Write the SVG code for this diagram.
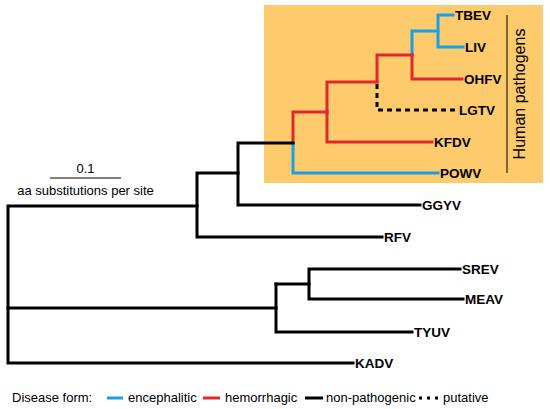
<svg xmlns="http://www.w3.org/2000/svg" width="550" height="409" viewBox="0 0 550 409">
<style>
.br{fill:none;stroke-width:3;stroke-linecap:square;stroke-linejoin:miter}
.k{stroke:#000}
.b{stroke:#1AA1E1}
.r{stroke:#E0282D}
.d{stroke:#000;stroke-dasharray:5,4;stroke-linecap:butt}
.lab{font-family:"Liberation Sans",Arial,sans-serif;font-weight:bold;font-size:13.5px;fill:#000}
.txt{font-family:"Liberation Sans",Arial,sans-serif;font-size:13px;fill:#000}
</style>
<rect id="human-box" x="264" y="5" width="279" height="178" fill="#FDCB6C"/>
<g id="connectors">
  <!-- pathogen clade -->
  <path class="br b" d="M453,15 H438 V47 H463"/>
  <path class="br b" d="M438,31 H412 V55"/>
  <path class="br r" d="M412,55 V79 H462"/>
  <path class="br r" d="M412,55 H377 V82"/>
  <path class="br d" d="M377,84 V110 H457"/>
  <path class="br r" d="M377,82 H327 V142 H432"/>
  <path class="br r" d="M327,112 H293 V143"/>
  <path class="br b" d="M293,143 V173 H438"/>
  <path class="br k" d="M293,143 H238 V205 H420"/>
  <path class="br k" d="M238,173 H197 V237 H382"/>
  <path class="br k" d="M197,206 H8 V363 H353"/>
  <path class="br k" d="M8,308 H276 V332 H412"/>
  <path class="br k" d="M276,284 H309 V269 H460"/>
  <path class="br k" d="M309,284 V299 H463"/>
  <path class="br k" d="M276,308 V284"/>
</g>
<g id="pathogen-bracket">
  <line x1="507" y1="15" x2="507" y2="173" stroke="#000" stroke-width="1"/>
  <text transform="translate(525,94) rotate(-90)" text-anchor="middle" font-family="Liberation Sans, Arial, sans-serif" font-size="16" fill="#000">Human pathogens</text>
</g>
<g id="TBEV"><text class="lab" x="455" y="20">TBEV</text></g>
<g id="LIV"><text class="lab" x="465" y="52">LIV</text></g>
<g id="OHFV"><text class="lab" x="464" y="84">OHFV</text></g>
<g id="LGTV"><text class="lab" x="459" y="115">LGTV</text></g>
<g id="KFDV"><text class="lab" x="434" y="147">KFDV</text></g>
<g id="POWV"><text class="lab" x="440" y="178">POWV</text></g>
<g id="GGYV"><text class="lab" x="422" y="210">GGYV</text></g>
<g id="RFV"><text class="lab" x="384" y="242">RFV</text></g>
<g id="SREV"><text class="lab" x="462" y="274">SREV</text></g>
<g id="MEAV"><text class="lab" x="465" y="304">MEAV</text></g>
<g id="TYUV"><text class="lab" x="414" y="337">TYUV</text></g>
<g id="KADV"><text class="lab" x="355" y="368">KADV</text></g>
<g id="scale-bar">
  <line x1="50" y1="178" x2="121" y2="178" stroke="#000" stroke-width="1"/>
  <text class="txt" x="85.5" y="173" text-anchor="middle">0.1</text>
  <text class="txt" x="85.5" y="195" text-anchor="middle" font-size="12">aa substitutions per site</text>
</g>
<g id="legend">
  <text class="txt" x="12" y="402" font-size="13.5">Disease form:</text>
  <line x1="107" y1="398" x2="123" y2="398" stroke="#1AA1E1" stroke-width="3"/>
  <text class="txt" x="128" y="402">encephalitic</text>
  <line x1="203" y1="398" x2="220" y2="398" stroke="#E0282D" stroke-width="3"/>
  <text class="txt" x="225" y="402">hemorrhagic</text>
  <line x1="305" y1="398" x2="323" y2="398" stroke="#000" stroke-width="3"/>
  <text class="txt" x="326" y="402">non-pathogenic</text>
  <line x1="419" y1="398" x2="438" y2="398" stroke="#000" stroke-width="3" stroke-dasharray="3,5"/>
  <text class="txt" x="443" y="402">putative</text>
</g>
</svg>
